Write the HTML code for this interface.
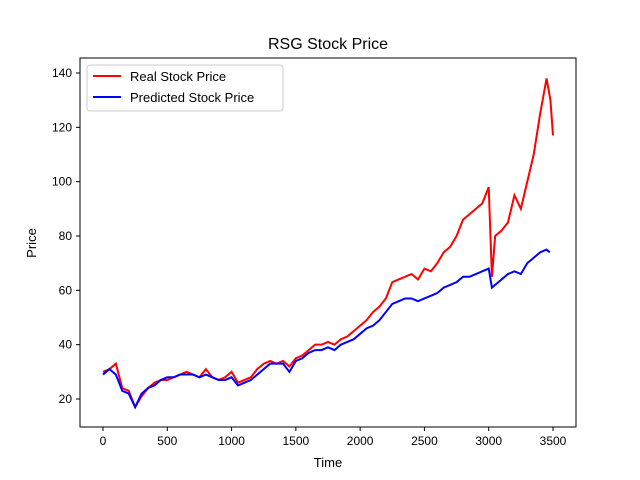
<!DOCTYPE html>
<html><head><meta charset="utf-8"><style>
body{margin:0;background:#fff}
svg{display:block;font-family:"Liberation Sans","DejaVu Sans",sans-serif}
</style></head><body>
<svg id="chart" width="640" height="480" xmlns="http://www.w3.org/2000/svg">
<rect width="640" height="480" fill="#fff"/>
<text x="328" y="49" text-anchor="middle" font-size="16">RSG Stock Price</text>
<g id="plot"></g>
<rect x="80" y="58" width="496" height="369" fill="none" stroke="#000" stroke-width="1"/>
<g id="xt"></g><g id="yt"></g>
<text x="328" y="467" text-anchor="middle" font-size="13">Time</text>
<text transform="translate(36,243) rotate(-90)" text-anchor="middle" font-size="13">Price</text>
<g>
<rect x="87" y="65" width="196" height="46" rx="3" fill="#fff" stroke="#ccc"/>
<line x1="93" y1="76" x2="121" y2="76" stroke="red" stroke-width="2"/>
<text x="130" y="81" font-size="13">Real Stock Price</text>
<line x1="93" y1="97" x2="121" y2="97" stroke="blue" stroke-width="2"/>
<text x="130" y="102" font-size="13">Predicted Stock Price</text>
</g>
</svg>
<script>
const realX=[0,50,100,150,200,250,300,350,400,450,500,550,600,650,700,750,800,850,900,950,1000,1050,1100,1150,1200,1250,1300,1350,1400,1450,1500,1550,1600,1650,1700,1750,1800,1850,1900,1950,2000,2050,2100,2150,2200,2250,2300,2350,2400,2450,2500,2550,2600,2650,2700,2750,2800,2850,2900,2950,3000,3025,3050,3100,3150,3200,3250,3300,3350,3400,3450,3480,3500];
const realY=[30,31,33,24,23,17,21,24,26,27,27,28,29,30,29,28,31,28,27,28,30,26,27,28,31,33,34,33,34,32,35,36,38,40,40,41,40,42,43,45,47,49,52,54,57,63,64,65,66,64,68,67,70,74,76,80,86,88,90,92,98,65,80,82,85,95,90,100,110,125,138,130,117];
const predX=[0,50,100,150,200,250,300,350,400,450,500,550,600,650,700,750,800,850,900,950,1000,1050,1100,1150,1200,1250,1300,1350,1400,1450,1500,1550,1600,1650,1700,1750,1800,1850,1900,1950,2000,2050,2100,2150,2200,2250,2300,2350,2400,2450,2500,2550,2600,2650,2700,2750,2800,2850,2900,2950,3000,3025,3050,3100,3150,3200,3250,3300,3350,3400,3450,3475];
const predY=[29,31,29,23,22,17,22,24,25,27,28,28,29,29,29,28,29,28,27,27,28,25,26,27,29,31,33,33,33,30,34,35,37,38,38,39,38,40,41,42,44,46,47,49,52,55,56,57,57,56,57,58,59,61,62,63,65,65,66,67,68,61,62,64,66,67,66,70,72,74,75,74];
const xTicks=[0,500,1000,1500,2000,2500,3000,3500];
const yTicks=[20,40,60,80,100,120,140];
const ns="http://www.w3.org/2000/svg";
const sx=v=>103+v*450/3500;
const sy=v=>399-(v-20)*326/120;
function line(xs,ys,c,name){const p=document.createElementNS(ns,"polyline");


p.setAttribute("points",xs.map((x,i)=>sx(x)+","+sy(ys[i])).join(" "));
p.setAttribute("fill","none");p.setAttribute("stroke",c);p.setAttribute("stroke-width","2");
document.getElementById("plot").appendChild(p);}
line(realX,realY,"red","real-price-line");
line(predX,predY,"blue","predicted-price-line");
const xt=document.getElementById("xt"),yt=document.getElementById("yt");
xTicks.forEach(t=>{const g=document.createElementNS(ns,"g");


g.innerHTML=`<line x1="${sx(t)}" y1="427" x2="${sx(t)}" y2="431" stroke="#000"/><text x="${sx(t)}" y="445" text-anchor="middle" font-size="12">${t}</text>`;xt.appendChild(g);});
yTicks.forEach(t=>{const g=document.createElementNS(ns,"g");


g.innerHTML=`<line x1="76" y1="${sy(t)}" x2="80" y2="${sy(t)}" stroke="#000"/><text x="72" y="${sy(t)+4}" text-anchor="end" font-size="12">${t}</text>`;yt.appendChild(g);});
</script>
</body></html>
